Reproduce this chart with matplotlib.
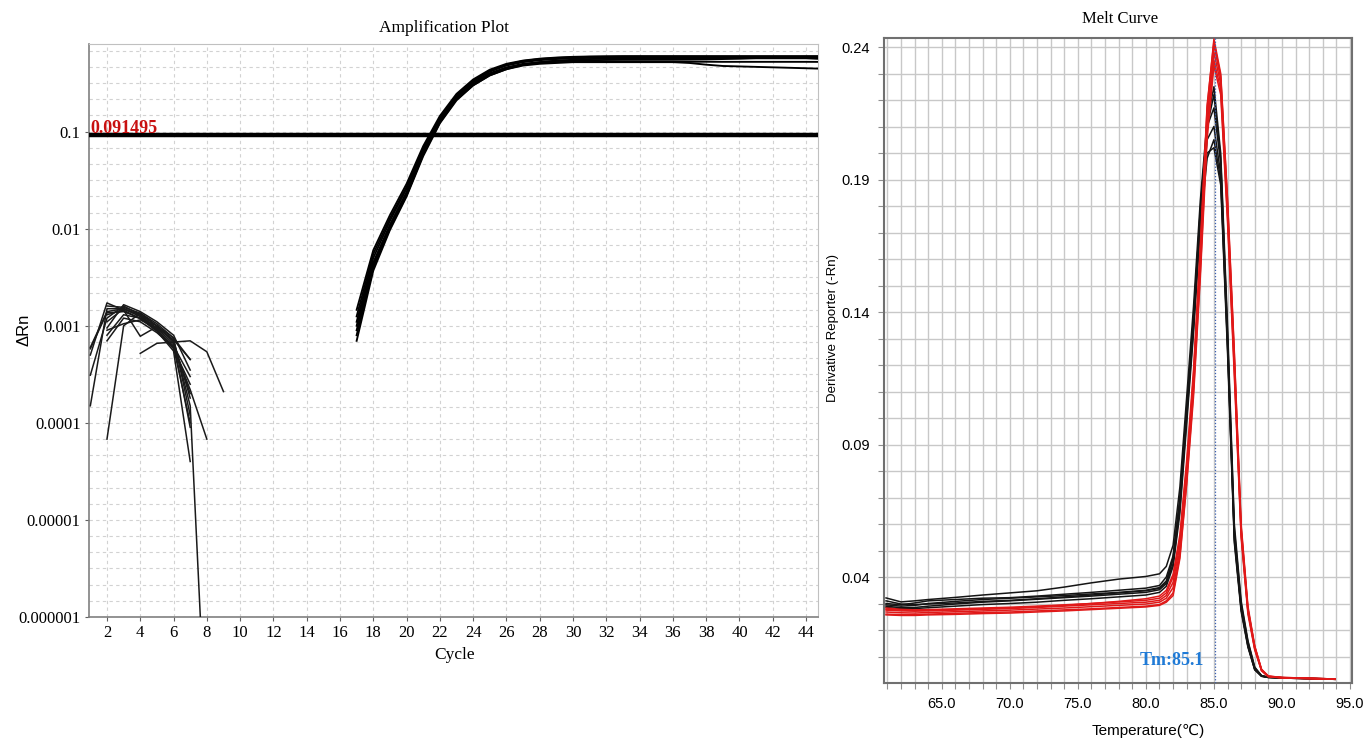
import matplotlib
matplotlib.use('Agg')
import matplotlib.pyplot as plt
import numpy as np
from matplotlib.ticker import FixedLocator, NullFormatter

# ---------------- Amplification plot data ----------------
THRESHOLD = 0.091495

NOISE_START = [1, 1, 1, 1, 2, 2, 4, 2, 2, 2, 2, 1, 2, 2]
NOISE_VALUES = [
    [0.00058, 0.00136, 0.00140, 0.00120, 0.00090, 0.00062, 0.00030],
    [0.00015, 0.00150, 0.00150, 0.00125, 0.00095, 0.00065, 0.00020],
    [0.00031, 0.00120, 0.00160, 0.00130, 0.00092, 0.00060, 0.00010],
    [0.00050, 0.00172, 0.00145, 0.00118, 0.00088, 0.00055, 0.00004],
    [0.000068, 0.00100, 0.00135, 0.00100, 0.00075, 0.00045],
    [0.00070, 0.00120, 0.00110, 0.00085, 0.00060, 0.00022, 0.000068],
    [0.00052, 0.00066, 0.00068, 0.00070, 0.00054, 0.00021],
    [0.00110, 0.00150, 0.00130, 0.00100, 0.00070, 0.00015, 4e-8],
    [0.00130, 0.00145, 0.00078, 0.00098, 0.00070, 0.00018],
    [0.00090, 0.00105, 0.00115, 0.00095, 0.00072, 0.00045],
    [0.00160, 0.00155, 0.00135, 0.00105, 0.00075, 0.00012],
    [0.00060, 0.00140, 0.00150, 0.00125, 0.00090, 0.00058, 0.00025],
    [0.00095, 0.00165, 0.00140, 0.00110, 0.00080, 0.00035],
    [0.00080, 0.00130, 0.00120, 0.00100, 0.00068, 0.00009],
]

AMP_CYCLES = list(range(17, 46))
AMP_VALUES = [
    [0.00146, 0.0060, 0.0138, 0.029, 0.071, 0.145, 0.245, 0.345, 0.435, 0.50, 0.54, 0.565, 0.58, 0.59,
     0.595, 0.598, 0.60, 0.60, 0.60, 0.60, 0.60, 0.60, 0.60, 0.60, 0.60, 0.60, 0.60, 0.60, 0.60],
    [0.00125, 0.0055, 0.0128, 0.027, 0.067, 0.138, 0.235, 0.335, 0.425, 0.49, 0.535, 0.56, 0.575, 0.585,
     0.59, 0.592, 0.594, 0.595, 0.595, 0.595, 0.595, 0.594, 0.594, 0.594, 0.594, 0.594, 0.594, 0.594, 0.594],
    [0.00110, 0.0050, 0.0120, 0.026, 0.065, 0.135, 0.23, 0.33, 0.415, 0.48, 0.52, 0.545, 0.56, 0.57,
     0.575, 0.58, 0.582, 0.584, 0.585, 0.585, 0.585, 0.585, 0.585, 0.585, 0.585, 0.585, 0.585, 0.585, 0.585],
    [0.00100, 0.0045, 0.0110, 0.024, 0.062, 0.130, 0.225, 0.32, 0.40, 0.46, 0.50, 0.52, 0.535, 0.54,
     0.545, 0.548, 0.55, 0.55, 0.55, 0.55, 0.552, 0.555, 0.56, 0.565, 0.57, 0.57, 0.57, 0.57, 0.56],
    [0.00090, 0.0042, 0.0105, 0.023, 0.060, 0.127, 0.22, 0.31, 0.39, 0.45, 0.49, 0.51, 0.52, 0.525,
     0.527, 0.528, 0.528, 0.527, 0.526, 0.525, 0.525, 0.525, 0.524, 0.524, 0.524, 0.524, 0.524, 0.524, 0.523],
    [0.00080, 0.0040, 0.0100, 0.022, 0.058, 0.124, 0.215, 0.30, 0.38, 0.44, 0.48, 0.50, 0.51, 0.52,
     0.52, 0.52, 0.52, 0.52, 0.52, 0.52, 0.51, 0.49, 0.475, 0.47, 0.465, 0.46, 0.455, 0.45, 0.445],
    [0.00070, 0.0037, 0.0097, 0.0215, 0.056, 0.122, 0.21, 0.30, 0.38, 0.44, 0.49, 0.52, 0.54, 0.55,
     0.56, 0.565, 0.57, 0.57, 0.57, 0.57, 0.57, 0.57, 0.57, 0.57, 0.575, 0.58, 0.585, 0.59, 0.59],
]

AMP_XTICKS = list(range(2, 45, 2))
AMP_YTICKS = [1e-6, 1e-5, 1e-4, 1e-3, 1e-2, 1e-1]
AMP_YTICKLABELS = ['0.000001', '0.00001', '0.0001', '0.001', '0.01', '0.1']

# ---------------- Melt curve data ----------------
MELT_T = [60.9, 62.0, 63.0, 64.0, 66.0, 68.0, 70.0, 72.0, 74.0, 76.0, 78.0, 80.0, 81.0, 81.5,
          82.0, 82.5, 83.0, 83.5, 84.0, 84.5, 85.0, 85.5, 86.0, 86.5, 87.0, 87.5, 88.0, 88.5,
          89.0, 90.0, 92.0, 93.9]

MELT_BLACK = [
    [0.0321, 0.0306, 0.0310, 0.0315, 0.0323, 0.0332, 0.0340, 0.0348, 0.0362, 0.0378, 0.0392, 0.0402, 0.0412, 0.0440,
     0.052, 0.074, 0.108, 0.142, 0.182, 0.212, 0.225, 0.200, 0.135, 0.060, 0.031, 0.016, 0.006, 0.0028, 0.0022, 0.0020, 0.0018, 0.0015],
    [0.0300, 0.0295, 0.0302, 0.0310, 0.0315, 0.0320, 0.0322, 0.0328, 0.0335, 0.0342, 0.0350, 0.0358, 0.0368, 0.0400,
     0.048, 0.070, 0.104, 0.138, 0.178, 0.210, 0.217, 0.196, 0.130, 0.056, 0.029, 0.015, 0.0055, 0.0027, 0.0022, 0.0020, 0.0017, 0.0014],
    [0.0295, 0.0290, 0.0293, 0.0300, 0.0308, 0.0315, 0.0320, 0.0325, 0.0330, 0.0336, 0.0342, 0.0350, 0.0360, 0.0385,
     0.047, 0.068, 0.102, 0.136, 0.176, 0.205, 0.210, 0.192, 0.128, 0.055, 0.028, 0.014, 0.005, 0.0026, 0.0021, 0.0019, 0.0017, 0.0014],
    [0.0290, 0.0284, 0.0285, 0.0290, 0.0298, 0.0305, 0.0310, 0.0316, 0.0322, 0.0328, 0.0335, 0.0342, 0.0352, 0.0375,
     0.045, 0.066, 0.100, 0.134, 0.174, 0.200, 0.202, 0.188, 0.125, 0.053, 0.027, 0.0135, 0.005, 0.0025, 0.0021, 0.0019, 0.0016, 0.0014],
    [0.0310, 0.0298, 0.0296, 0.0298, 0.0302, 0.0308, 0.0312, 0.0318, 0.0325, 0.0332, 0.0340, 0.0348, 0.0357, 0.0380,
     0.047, 0.069, 0.103, 0.137, 0.179, 0.210, 0.222, 0.198, 0.132, 0.058, 0.030, 0.0155, 0.0058, 0.0027, 0.0022, 0.0020, 0.0017, 0.0015],
    [0.0285, 0.0280, 0.0281, 0.0284, 0.0290, 0.0296, 0.0300, 0.0305, 0.0312, 0.0318, 0.0325, 0.0332, 0.0342, 0.0365,
     0.044, 0.064, 0.098, 0.132, 0.172, 0.198, 0.205, 0.190, 0.127, 0.054, 0.028, 0.014, 0.0052, 0.0026, 0.0021, 0.0019, 0.0016, 0.0014],
]

MELT_RED = [
    [0.0283, 0.0278, 0.0276, 0.0277, 0.0280, 0.0283, 0.0286, 0.0290, 0.0295, 0.0300, 0.0306, 0.0312, 0.0320, 0.0340,
     0.040, 0.054, 0.082, 0.116, 0.163, 0.217, 0.243, 0.230, 0.183, 0.125, 0.060, 0.029, 0.014, 0.0052, 0.0026, 0.0021, 0.0018, 0.0015],
    [0.0275, 0.0272, 0.0271, 0.0272, 0.0275, 0.0278, 0.0281, 0.0285, 0.0290, 0.0295, 0.0300, 0.0305, 0.0312, 0.0330,
     0.038, 0.052, 0.080, 0.114, 0.161, 0.215, 0.241, 0.228, 0.180, 0.122, 0.058, 0.028, 0.0136, 0.005, 0.0025, 0.0020, 0.0018, 0.0015],
    [0.0268, 0.0265, 0.0264, 0.0266, 0.0269, 0.0272, 0.0275, 0.0279, 0.0283, 0.0288, 0.0293, 0.0298, 0.0305, 0.0320,
     0.036, 0.050, 0.078, 0.112, 0.158, 0.212, 0.238, 0.226, 0.178, 0.120, 0.057, 0.027, 0.013, 0.0048, 0.0025, 0.0020, 0.0017, 0.0014],
    [0.0260, 0.0258, 0.0258, 0.0260, 0.0263, 0.0266, 0.0268, 0.0272, 0.0276, 0.0280, 0.0285, 0.0290, 0.0296, 0.0310,
     0.034, 0.048, 0.076, 0.110, 0.155, 0.208, 0.235, 0.224, 0.176, 0.118, 0.056, 0.027, 0.013, 0.0047, 0.0024, 0.0020, 0.0017, 0.0014],
    [0.0278, 0.0275, 0.0274, 0.0275, 0.0277, 0.0280, 0.0283, 0.0288, 0.0293, 0.0300, 0.0308, 0.0318, 0.0328, 0.0350,
     0.041, 0.056, 0.084, 0.118, 0.165, 0.218, 0.242, 0.229, 0.182, 0.124, 0.059, 0.028, 0.0138, 0.005, 0.0026, 0.0021, 0.0018, 0.0015],
    [0.0257, 0.0255, 0.0255, 0.0257, 0.0259, 0.0262, 0.0264, 0.0268, 0.0272, 0.0277, 0.0282, 0.0287, 0.0293, 0.0305,
     0.033, 0.047, 0.075, 0.108, 0.153, 0.205, 0.233, 0.222, 0.174, 0.116, 0.055, 0.026, 0.0125, 0.0046, 0.0024, 0.0019, 0.0016, 0.0014],
]

TM = 85.1
MELT_XTICKS = [65.0, 70.0, 75.0, 80.0, 85.0, 90.0, 95.0]
MELT_YTICKS = [0.04, 0.09, 0.14, 0.19, 0.24]

# ---------------- Figure ----------------
W, H = 1367, 742
fig = plt.figure(figsize=(W / 100, H / 100), dpi=100)
SERIF = ['Liberation Serif', 'DejaVu Serif']
SANS = ['Liberation Sans', 'DejaVu Sans']

# Amplification plot
axL = fig.add_axes([89 / W, 1 - 617 / H, 729 / W, 573 / H])
axL.set_yscale('log')
axL.set_xlim(0.92, 44.72)
axL.set_ylim(1e-6, 0.8)

for start, vals in zip(NOISE_START, NOISE_VALUES):
    axL.plot(list(range(start, start + len(vals))), vals, color='#1a1a1a', lw=1.1, zorder=3)
for vals in AMP_VALUES:
    axL.plot(AMP_CYCLES, vals, color='black', lw=1.35, zorder=3)
axL.axhline(THRESHOLD, color='black', lw=3.2, zorder=4)
axL.text(1.0, 0.0975, '0.091495', color='#c81010', fontweight='bold', family=SERIF,
         fontsize=13, va='baseline', ha='left', zorder=5)

axL.set_xticks(AMP_XTICKS)
axL.set_xticklabels([str(v) for v in AMP_XTICKS], family=SERIF, fontsize=12)
axL.set_yticks(AMP_YTICKS)
axL.set_yticklabels(AMP_YTICKLABELS, family=SERIF, fontsize=12)
axL.yaxis.set_minor_locator(FixedLocator(10 ** np.arange(-6, 0.01, 1 / 6)))
axL.yaxis.set_minor_formatter(NullFormatter())
axL.tick_params(axis='both', which='major', length=3, width=0.8, color='#606060', pad=3)
axL.tick_params(axis='y', which='minor', length=0)
axL.grid(True, which='both', axis='y', ls=(0, (3, 3)), color='#d2d2d2', lw=0.8)
axL.grid(True, which='major', axis='x', ls=(0, (3, 3)), color='#d2d2d2', lw=0.8)
axL.set_axisbelow(True)
for side in ['top', 'right']:
    axL.spines[side].set_color('#c0c0c0')
for side in ['left', 'bottom']:
    axL.spines[side].set_color('#808080')
    axL.spines[side].set_linewidth(1.2)

fig.text(444 / W, 1 - 28 / H, 'Amplification Plot', family=SERIF, fontsize=12.5, ha='center', va='center')
fig.text(455 / W, 1 - 655 / H, 'Cycle', family=SERIF, fontsize=12.5, ha='center', va='center')
fig.text(24 / W, 1 - 330 / H, 'ΔRn', family=SANS, fontsize=12, rotation=90, ha='center', va='center')

# Melt curve
axR = fig.add_axes([884 / W, 1 - 683 / H, 468 / W, 645 / H])
axR.set_xlim(60.75, 95.15)
axR.set_ylim(0, 0.2434)

for vals in MELT_BLACK:
    axR.plot(MELT_T, vals, color='#151515', lw=1.1, zorder=3)
for vals in MELT_RED:
    axR.plot(MELT_T, vals, color='#e01818', lw=1.1, zorder=3)
axR.axvline(TM, color='#3a5fb0', ls=(0, (1, 1.5)), lw=0.9, zorder=4)
axR.text(84.25, 0.0085, 'Tm:85.1', color='#1f7ad6', fontweight='bold', family=SERIF,
         fontsize=13, ha='right', va='center', zorder=5)

axR.set_xticks(MELT_XTICKS)
axR.set_xticklabels(['%.1f' % v for v in MELT_XTICKS], family=SANS, fontsize=10.5)
axR.xaxis.set_minor_locator(FixedLocator(np.arange(61, 96, 1)))
axR.set_yticks(MELT_YTICKS)
axR.set_yticklabels(['%.2f' % v for v in MELT_YTICKS], family=SANS, fontsize=10.5)
axR.yaxis.set_minor_locator(FixedLocator(np.arange(0.01, 0.245, 0.01)))
axR.tick_params(axis='both', which='both', length=4, width=0.8, color='#909090')
axR.tick_params(axis='x', which='major', pad=6)
axR.tick_params(axis='y', which='major', pad=6)
axR.grid(True, which='both', color='#c8c8c8', lw=1.0)
axR.set_axisbelow(True)
for side in axR.spines:
    axR.spines[side].set_color('#707070')
    axR.spines[side].set_linewidth(1.5)

fig.text(1120 / W, 1 - 19 / H, 'Melt Curve', family=SERIF, fontsize=12, ha='center', va='center')
fig.text(1148 / W, 1 - 731 / H, 'Temperature(℃)', family=SANS, fontsize=11, ha='center', va='center')
fig.text(833 / W, 1 - 328 / H, 'Derivative Reporter (-Rn)', family=SANS, fontsize=9.5,
         rotation=90, ha='center', va='center')

fig.savefig('out.png', dpi=100)
